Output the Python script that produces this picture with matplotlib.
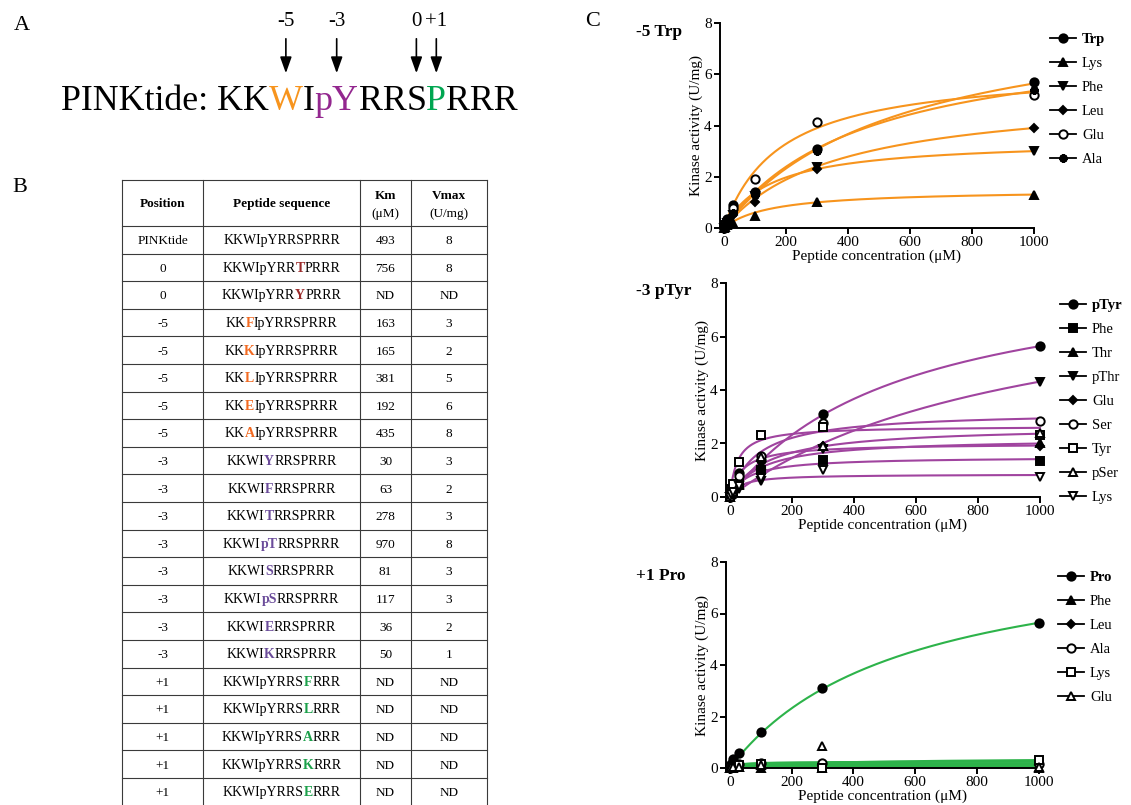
import numpy as np
import matplotlib
matplotlib.use("Agg")
import matplotlib.pyplot as plt
from matplotlib.lines import Line2D
from matplotlib.font_manager import FontProperties

plt.rcParams['font.family'] = ['Liberation Serif', 'DejaVu Serif']

# ---- table B: peptide variants and their kinetic constants
positions = ['PINKtide', '0', '0', '-5', '-5', '-5', '-5', '-5',
             '-3', '-3', '-3', '-3', '-3', '-3', '-3', '-3',
             '+1', '+1', '+1', '+1', '+1']
residues = ['', 'T', 'Y', 'F', 'K', 'L', 'E', 'A',
            'Y', 'F', 'T', 'pT', 'S', 'pS', 'E', 'K',
            'F', 'L', 'A', 'K', 'E']
km_table = ['493', '756', 'ND', '163', '165', '381', '192', '435',
            '30', '63', '278', '970', '81', '117', '36', '50',
            'ND', 'ND', 'ND', 'ND', 'ND']
vmax_table = ['8', '8', 'ND', '3', '2', '5', '6', '8',
              '3', '2', '3', '8', '3', '3', '2', '1',
              'ND', 'ND', 'ND', 'ND', 'ND']
# sequence either side of the substituted residue
flank = {'0': ('KKWIpYRR', 'PRRR'), '-5': ('KK', 'IpYRRSPRRR'),
         '-3': ('KKWI', 'RRSPRRR'), '+1': ('KKWIpYRRS', 'RRR')}
flank_color = {'0': '#9b2b2b', '-5': '#f26a21', '-3': '#6b4c9a', '+1': '#1ba04a'}

# ---- panel C: kinetics, activity in U/mg
conc = [0, 3, 10, 30, 100, 300, 1000]

trp_names = ['Trp', 'Lys', 'Phe', 'Leu', 'Glu', 'Ala']
trp_marks = ['o', '^', 'v', 'D', 'o', 'ast']
trp_open = [False, False, False, False, True, False]
trp_data = [[0, 0.15, 0.35, 0.9, 1.4, 3.1, 5.7],
            [0, 0.05, 0.1, 0.2, 0.45, 1.0, 1.3],
            [0, 0.1, 0.2, 0.5, 1.25, 2.4, 3.0],
            [0, 0.1, 0.25, 0.5, 1.0, 2.3, 3.9],
            [0, 0.15, 0.3, 0.8, 1.9, 4.15, 5.2],
            [0, 0.1, 0.3, 0.6, 1.3, 3.0, 5.4]]
trp_km = [560, 150, 150, 366, 182, 451]
trp_vmax = [8.8, 1.5, 3.45, 5.33, 6.26, 7.76]

ptyr_names = ['pTyr', 'Phe', 'Thr', 'pThr', 'Glu', 'Ser', 'Tyr', 'pSer', 'Lys']
ptyr_marks = ['o', 's', '^', 'v', 'D', 'o', 's', '^', 'v']
ptyr_open = [False, False, False, False, False, True, True, True, True]
ptyr_data = [[0, 0.15, 0.35, 0.9, 1.4, 3.1, 5.65],
             [0, 0.1, 0.2, 0.5, 1.0, 1.4, 1.35],
             [0, 0.1, 0.2, 0.45, 1.2, 1.9, 2.0],
             [0, 0.05, 0.1, 0.3, 0.6, 1.8, 4.3],
             [0, 0.1, 0.25, 0.6, 1.1, 1.9, 1.9],
             [0, 0.2, 0.35, 0.8, 1.55, 2.75, 2.85],
             [0, 0.3, 0.5, 1.3, 2.3, 2.6, 2.3],
             [0, 0.1, 0.2, 0.5, 1.5, 1.9, 2.4],
             [0, 0.1, 0.2, 0.4, 0.7, 1.0, 0.75]]
ptyr_km = [560, 60, 100, 970, 40, 90, 25, 120, 35]
ptyr_vmax = [8.8, 1.5, 2.2, 8.5, 2.0, 3.2, 2.65, 2.65, 0.85]

pro_names = ['Pro', 'Phe', 'Leu', 'Ala', 'Lys', 'Glu']
pro_marks = ['o', '^', 'D', 'o', 's', '^']
pro_open = [False, False, False, True, True, True]
pro_data = [[0, 0.15, 0.35, 0.6, 1.4, 3.1, 5.65],
            [0, 0.0, 0.0, 0.02, 0.0, 0.0, 0.0],
            [0, 0.05, 0.1, 0.1, 0.1, 0.1, 0.1],
            [0, 0.05, 0.1, 0.15, 0.2, 0.2, 0.15],
            [0, 0.05, 0.05, 0.1, 0.15, 0.0, 0.3],
            [0, 0.02, 0.05, 0.05, 0.1, 0.85, 0.05]]
pro_km = [560, 10, 10, 10, 300, 30]
pro_vmax = [8.8, 0.05, 0.12, 0.19, 0.4, 0.25]

orange = '#f7941d'
purple = '#a0449f'
green = '#2db34a'

W, H = 1131, 805
fig = plt.figure(figsize=(W / 100, H / 100), dpi=100)
renderer = fig.canvas.get_renderer()

# page-sized axes in pixel units for panels A and B
page = fig.add_axes([0, 0, 1, 1])
page.set_xlim(0, W)
page.set_ylim(H, 0)
page.axis('off')


def text_w(s, prop):
    return renderer.get_text_width_height_descent(s, prop, ismath=False)[0]


def run_text(x, y, pieces, size, ha='left'):
    # draw coloured runs of text side by side using glyph advances,
    # return the centre of each run
    layout = []
    for s, c, wt in pieces:
        prop = FontProperties(family=plt.rcParams['font.family'], size=size, weight=wt)
        adv = text_w('I' + s + 'I', prop) - text_w('II', prop)
        layout.append((s, c, wt, adv))
    total = sum(item[3] for item in layout)
    pen = x - total / 2 if ha == 'center' else x
    centers = []
    for s, c, wt, adv in layout:
        page.text(pen, y, s, color=c, fontsize=size, fontweight=wt,
                  va='baseline', ha='left')
        centers.append(pen + adv / 2)
        pen += adv
    return centers


# ---- A
page.text(22, 26, 'A', fontsize=16, ha='center', va='center')
seq_pieces = [('PINKtide: KK', 'black', 'normal'), ('W', orange, 'normal'),
              ('I', 'black', 'normal'), ('pY', '#93278f', 'normal'),
              ('RR', 'black', 'normal'), ('S', 'black', 'normal'),
              ('P', '#00a651', 'normal'), ('RRR', 'black', 'normal')]
cx = run_text(61, 110, seq_pieces, 25.8)
for idx, lab in zip([1, 3, 5, 6], ['-5', '-3', '0', '+1']):
    page.annotate('', xy=(cx[idx], 76), xytext=(cx[idx], 36),
                  arrowprops=dict(arrowstyle='-|>,head_length=0.7,head_width=0.25',
                                  color='black', lw=1.2, mutation_scale=14))
    page.text(cx[idx], 21, lab, fontsize=15, ha='center', va='center')

# ---- B
page.text(20, 188, 'B', fontsize=16, ha='center', va='center')
col_edges = [122, 203, 360, 411, 487]
col_mid = [(a + b) / 2 for a, b in zip(col_edges[:-1], col_edges[1:])]
top, head_bot, row_h = 180, 226, 27.6
n_rows = len(positions)
bottom = head_bot + n_rows * row_h
lc = '#3a3a3a'
for yy in [top, head_bot] + [head_bot + i * row_h for i in range(1, n_rows + 1)]:
    page.plot([col_edges[0], col_edges[-1]], [yy, yy], color=lc, lw=0.8)
for xx in col_edges:
    page.plot([xx, xx], [top, bottom], color=lc, lw=0.8)

fs = 9.5
seq_fs = 10
base = fs * 100 / 72 * 0.33
page.text(col_mid[0], 203 + base, 'Position', fontsize=fs, fontweight='bold', ha='center', va='baseline')
page.text(col_mid[1], 203 + base, 'Peptide sequence', fontsize=fs, fontweight='bold', ha='center', va='baseline')
page.text(col_mid[2], 195 + base, 'Km', fontsize=fs, fontweight='bold', ha='center', va='baseline')
page.text(col_mid[2], 213 + base, '(μM)', fontsize=fs, ha='center', va='baseline')
page.text(col_mid[3], 195 + base, 'Vmax', fontsize=fs, fontweight='bold', ha='center', va='baseline')
page.text(col_mid[3], 213 + base, '(U/mg)', fontsize=fs, ha='center', va='baseline')

for i, (pos, res, km, vm) in enumerate(zip(positions, residues, km_table, vmax_table)):
    yb = head_bot + (i + 0.5) * row_h + base
    page.text(col_mid[0], yb, pos, fontsize=fs, ha='center', va='baseline')
    if res:
        pre, post = flank[pos]
        run_text(col_mid[1], yb, [(pre, 'black', 'normal'), (res, flank_color[pos], 'bold'),
                                  (post, 'black', 'normal')], seq_fs, ha='center')
    else:
        run_text(col_mid[1], yb, [('KKWIpYRRSPRRR', 'black', 'normal')], seq_fs, ha='center')
    page.text(col_mid[2], yb, km, fontsize=fs, ha='center', va='baseline')
    page.text(col_mid[3], yb, vm, fontsize=fs, ha='center', va='baseline')

# ---- C
page.text(593, 22, 'C', fontsize=16, ha='center', va='center')

curve_x = np.linspace(0, 1000, 400)
marker_map = {'ast': (8, 2, 0)}


def kinetics(px, title, title_y, names, marks, opens, data, kms, vmaxs, color, leg_xy):
    left, top_px, right, bot_px = px
    ax = fig.add_axes([left / W, 1 - bot_px / H, (right - left) / W, (bot_px - top_px) / H])
    for k, v in zip(kms, vmaxs):
        ax.plot(curve_x, v * curve_x / (k + curve_x), color=color, lw=1.5,
                zorder=2, clip_on=False)
    handles = []
    for name, m, o, y in zip(names, marks, opens, data):
        mk = marker_map.get(m, m)
        ms = 4.5 if m == 'D' else 6
        face = 'white' if o else 'black'
        mew = 1.8 if m == 'ast' else 1.4
        ax.plot(conc, y, ls='none', marker=mk, ms=ms, mfc=face, mec='black',
                mew=mew, zorder=3, clip_on=False)
        handles.append(Line2D([], [], color='black', lw=1.3, marker=mk, ms=ms,
                              mfc=face, mec='black', mew=mew))
    ax.set_xlim(-12, 1000)
    ax.set_ylim(0, 8)
    ax.set_xticks(range(0, 1001, 200))
    ax.set_yticks(range(0, 9, 2))
    ax.spines[['top', 'right']].set_visible(False)
    for s in ['left', 'bottom']:
        ax.spines[s].set_linewidth(1.4)
    ax.tick_params(direction='out', length=4, width=1.4, labelsize=11, pad=2)
    ax.set_xlabel('Peptide concentration (μM)', fontsize=11, labelpad=0)
    ax.set_ylabel('Kinase activity (U/mg)', fontsize=11, labelpad=1)
    fig.text(636 / W, 1 - title_y / H, title, fontsize=12.5, fontweight='bold', va='center')
    leg = ax.legend(handles, names, loc='upper left',
                    bbox_to_anchor=(leg_xy[0] / W, 1 - leg_xy[1] / H),
                    bbox_transform=fig.transFigure, frameon=False,
                    handlelength=1.8, handletextpad=0.4, labelspacing=0.74,
                    fontsize=10.5, borderpad=0, borderaxespad=0)
    leg.get_texts()[0].set_fontweight('bold')
    return ax


kinetics((720, 23, 1034, 228), '-5 Trp', 32, trp_names, trp_marks, trp_open,
         trp_data, trp_km, trp_vmax, orange, (1050, 33))
kinetics((726, 283, 1040, 497), '-3 pTyr', 291, ptyr_names, ptyr_marks, ptyr_open,
         ptyr_data, ptyr_km, ptyr_vmax, purple, (1060, 299))
kinetics((726, 562, 1039, 768), '+1 Pro', 576, pro_names, pro_marks, pro_open,
         pro_data, pro_km, pro_vmax, green, (1058, 571))

fig.savefig('out.png', dpi=100)
